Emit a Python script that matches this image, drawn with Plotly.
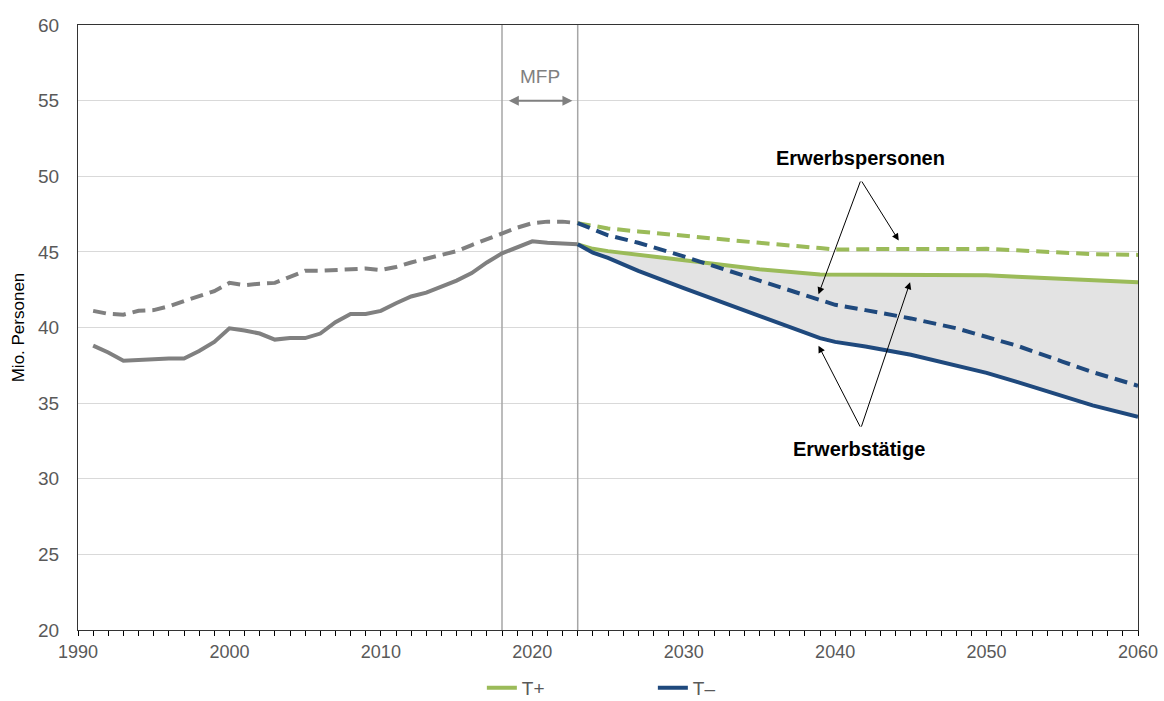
import plotly.graph_objects as go

# ---------------- data ----------------
hist_years = list(range(1991, 2024))
erwerbstaetige_hist = [38.8, 38.35, 37.8, 37.85, 37.95, 37.95, 37.95, 38.45, 39.05, 39.95,
                       39.8, 39.6, 39.2, 39.3, 39.3, 39.6, 40.35, 40.9, 40.9, 41.1,
                       41.6, 42.05, 42.3, 42.7, 43.1, 43.6, 44.3, 44.9, 45.3, 45.7,
                       45.6, 45.55, 45.5]
erwerbspersonen_hist = [41.1, 40.9, 40.85, 41.1, 41.15, 41.4, 41.75, 42.1, 42.4, 42.95,
                        42.8, 42.9, 42.95, 43.35, 43.75, 43.75, 43.8, 43.85, 43.9, 43.8,
                        44.0, 44.3, 44.55, 44.8, 45.05, 45.45, 45.85, 46.25, 46.6, 46.9,
                        47.0, 47.0, 46.9]

proj_years = [2023, 2024, 2025, 2027, 2030, 2035, 2039, 2040, 2042, 2045, 2048, 2050, 2052, 2055, 2057, 2060]
erwerbspersonen_tplus = [46.9, 46.75, 46.55, 46.35, 46.05, 45.6, 45.25, 45.15, 45.18, 45.2, 45.2, 45.2, 45.1, 44.95, 44.85, 44.8]
erwerbstaetige_tplus = [45.5, 45.2, 45.05, 44.8, 44.45, 43.85, 43.5, 43.5, 43.5, 43.5, 43.45, 43.45, 43.35, 43.2, 43.1, 43.0]
erwerbspersonen_tminus = [46.9, 46.5, 46.1, 45.6, 44.7, 43.1, 41.85, 41.5, 41.15, 40.6, 39.95, 39.4, 38.8, 37.75, 37.05, 36.15]
erwerbstaetige_tminus = [45.5, 44.95, 44.6, 43.75, 42.6, 40.75, 39.3, 39.05, 38.75, 38.2, 37.45, 37.0, 36.4, 35.45, 34.85, 34.1]

mfp_start, mfp_end = 2018, 2023
legend_names = ["T+", "T\u2013"]
y_ticks = [20, 25, 30, 35, 40, 45, 50, 55, 60]
x_ticks = [1990, 2000, 2010, 2020, 2030, 2040, 2050, 2060]

# ---------------- styles ----------------
GREEN = "#9BBB59"
BLUE = "#1F497D"
GRAY = "#808080"
FILL = "#E3E3E3"
FONT = "Liberation Sans, Arial, sans-serif"
DASH = "13px,7px"
LW = 4

fig = go.Figure()

# shaded band between T+ and T- Erwerbstätige
fig.add_trace(go.Scatter(x=proj_years, y=erwerbstaetige_tminus, mode="lines",
                         line=dict(width=0), showlegend=False, hoverinfo="skip"))
fig.add_trace(go.Scatter(x=proj_years, y=erwerbstaetige_tplus, mode="lines",
                         line=dict(width=0), fill="tonexty", fillcolor=FILL,
                         showlegend=False, hoverinfo="skip"))

# historical
fig.add_trace(go.Scatter(x=hist_years, y=erwerbspersonen_hist, mode="lines",
                         line=dict(color=GRAY, width=LW, dash=DASH), showlegend=False))
fig.add_trace(go.Scatter(x=hist_years, y=erwerbstaetige_hist, mode="lines",
                         line=dict(color=GRAY, width=LW), showlegend=False))

# projections
fig.add_trace(go.Scatter(x=proj_years, y=erwerbstaetige_tplus, mode="lines", name=legend_names[0],
                         line=dict(color=GREEN, width=LW)))
fig.add_trace(go.Scatter(x=proj_years, y=erwerbstaetige_tminus, mode="lines", name=legend_names[1],
                         line=dict(color=BLUE, width=LW)))
fig.add_trace(go.Scatter(x=proj_years, y=erwerbspersonen_tplus, mode="lines",
                         line=dict(color=GREEN, width=LW, dash=DASH), showlegend=False))
fig.add_trace(go.Scatter(x=proj_years, y=erwerbspersonen_tminus, mode="lines",
                         line=dict(color=BLUE, width=LW, dash=DASH), showlegend=False))

# MFP vertical lines
for xv in (mfp_start, mfp_end):
    fig.add_shape(type="line", xref="x", yref="y", x0=xv, x1=xv, y0=20, y1=60,
                  line=dict(color="#A6A6A6", width=1.5), layer="between")

annotations = [
    dict(x=(mfp_start + mfp_end) / 2, y=56.6, xref="x", yref="y", text="MFP", showarrow=False,
         font=dict(family=FONT, size=19, color=GRAY)),
    dict(x=mfp_end - 0.35, y=55.0, ax=mfp_start + 0.35, ay=55.0, xref="x", yref="y",
         axref="x", ayref="y", text="", showarrow=True, arrowhead=2, arrowside="end+start",
         arrowsize=1, arrowwidth=2, arrowcolor=GRAY),
    dict(x=2041.7, y=51.2, xref="x", yref="y", text="<b>Erwerbspersonen</b>", showarrow=False,
         font=dict(family=FONT, size=20, color="black")),
    dict(x=2044.2, y=45.75, ax=2041.7, ay=49.75, xref="x", yref="y", axref="x", ayref="y",
         text="", showarrow=True, arrowhead=2, arrowsize=1.4, arrowwidth=1, arrowcolor="black"),
    dict(x=2038.9, y=42.2, ax=2041.7, ay=49.75, xref="x", yref="y", axref="x", ayref="y",
         text="", showarrow=True, arrowhead=2, arrowsize=1.4, arrowwidth=1, arrowcolor="black"),
    dict(x=2041.6, y=32.0, xref="x", yref="y", text="<b>Erwerbstätige</b>", showarrow=False,
         font=dict(family=FONT, size=20, color="black")),
    dict(x=2038.9, y=38.8, ax=2041.7, ay=33.35, xref="x", yref="y", axref="x", ayref="y",
         text="", showarrow=True, arrowhead=2, arrowsize=1.4, arrowwidth=1, arrowcolor="black"),
    dict(x=2044.95, y=43.0, ax=2041.7, ay=33.35, xref="x", yref="y", axref="x", ayref="y",
         text="", showarrow=True, arrowhead=2, arrowsize=1.4, arrowwidth=1, arrowcolor="black"),
]

FIG_W, FIG_H = 1164, 701
fig.update_layout(
    width=FIG_W, height=FIG_H,
    margin=dict(l=78, r=26, t=25, b=71, autoexpand=False),
    paper_bgcolor="white", plot_bgcolor="white",
    font=dict(family=FONT, color="#595959"),
    annotations=annotations,
    legend=dict(orientation="h", x=0.381, xanchor="left", yref="container",
                y=1 - 688 / FIG_H, yanchor="middle", traceorder="normal",
                font=dict(family=FONT, size=19, color="#595959"),
                itemwidth=30, entrywidth=126, entrywidthmode="pixels",
                bgcolor="rgba(0,0,0,0)"),
    showlegend=True,
)
fig.update_xaxes(range=[1990, 2060], tickvals=x_ticks, ticks="outside", ticklen=5,
                 tickcolor="black", tickwidth=1, automargin=False,
                 minor=dict(dtick=1, tick0=1990, ticks="outside", ticklen=5, tickcolor="black",
                            showgrid=False),
                 showgrid=False, showline=True, linecolor="#333333", linewidth=1.3, mirror=True,
                 tickfont=dict(family=FONT, size=18, color="#595959"), zeroline=False)
fig.update_yaxes(range=[20, 60], tickvals=y_ticks, ticks="", showgrid=True, automargin=False,
                 gridcolor="#D9D9D9", gridwidth=1, showline=True, linecolor="#333333",
                 linewidth=1.3, mirror=True, zeroline=False, ticklabelstandoff=14,
                 tickfont=dict(family=FONT, size=19, color="#595959"),
                 title=dict(text="Mio. Personen", standoff=8,
                            font=dict(family=FONT, size=17, color="black")))

fig.write_html(
    "out.html",
    config={"displayModeBar": False},
    post_script="document.body.style.margin='0';document.body.style.overflow='hidden';",
)
